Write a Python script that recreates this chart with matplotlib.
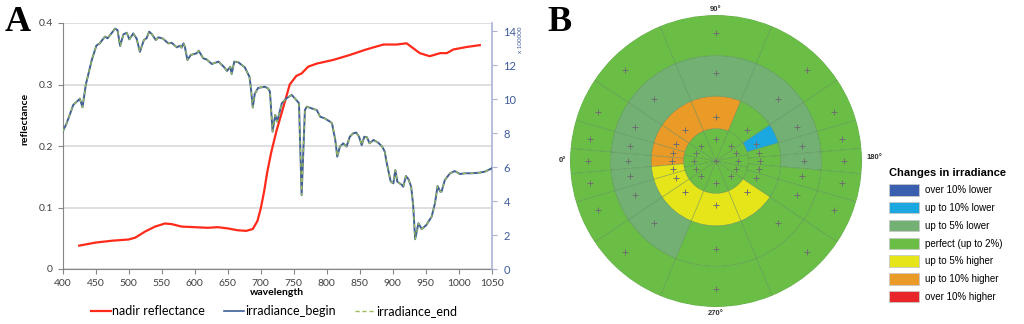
import numpy as np
import matplotlib
matplotlib.use('Agg')
import matplotlib.pyplot as plt
from matplotlib.patches import Patch
from matplotlib.lines import Line2D

# ---- panel A data ----
refl_wl = [425, 450, 475, 500, 510, 525, 540, 555, 565, 580, 600, 620, 635, 650, 665, 678,
           688, 695, 700, 705, 710, 716, 724, 734, 744, 754, 762, 772, 785, 810, 835, 860,
           886, 906, 921, 931, 941, 956, 972, 982, 992, 1012, 1032]
refl_val = [0.038, 0.043, 0.046, 0.048, 0.051, 0.061, 0.069, 0.074, 0.073, 0.069, 0.068,
            0.067, 0.068, 0.066, 0.063, 0.062, 0.065, 0.078, 0.098, 0.125, 0.158, 0.19,
            0.225, 0.262, 0.3, 0.314, 0.318, 0.329, 0.334, 0.340, 0.348, 0.357, 0.365,
            0.365, 0.367, 0.359, 0.351, 0.346, 0.351, 0.351, 0.357, 0.361, 0.364]

irr_wl = [400, 406, 416, 424, 426, 430, 435, 444, 451, 456, 464, 468, 477, 479, 483, 487,
          492, 497, 501, 507, 512, 517, 523, 527, 531, 535, 541, 545, 552, 560, 565, 573,
          578, 580, 583, 585, 589, 594, 603, 606, 613, 618, 626, 636, 644, 649, 654, 656,
          660, 666, 676, 683, 685, 688, 691, 696, 706, 711, 714, 718, 722, 725, 732, 739,
          747, 754, 758, 762, 767, 770, 777, 785, 790, 797, 805, 808, 813, 816, 820, 825,
          830, 835, 840, 845, 849, 853, 857, 861, 865, 871, 878, 884, 888, 891, 897, 901,
          904, 907, 914, 916, 920, 924, 928, 931, 934, 939, 944, 951, 959, 964, 968, 972,
          974, 979, 987, 994, 1002, 1010, 1020, 1032, 1040, 1050]
irr_begin = [8.08, 8.57, 9.65, 9.94, 10.02, 9.51, 10.84, 12.29, 13.14, 13.27, 13.67, 13.57,
             14.02, 14.14, 14.06, 13.12, 13.8, 13.9, 13.51, 13.86, 13.55, 12.78, 13.47,
             13.57, 13.96, 13.82, 13.47, 13.63, 13.55, 13.27, 13.31, 13.04, 13.14, 13.02,
             13.27, 13.08, 12.29, 12.59, 12.69, 12.84, 12.39, 12.33, 12.06, 12.2, 11.9,
             11.65, 11.9, 11.47, 12.2, 12.16, 11.86, 11.3, 10.7, 9.5, 10.3, 10.65, 10.72,
             10.63, 10.43, 8.08, 9.06, 8.67, 9.75, 10.04, 10.24, 9.94, 9.75, 4.35, 9.35,
             9.55, 9.45, 9.35, 8.96, 8.86, 8.67, 8.57, 7.59, 6.61, 7.2, 7.39, 7.2, 7.78,
             7.98, 8.02, 7.78, 7.29, 7.78, 7.75, 7.39, 7.59, 7.43, 7.2, 6.9, 6.22, 5.14,
             5.04, 5.82, 5.14, 4.94, 4.84, 5.47, 5.27, 4.84, 3.76, 1.75, 2.69, 2.35, 2.59,
             3.08, 3.86, 4.88, 4.55, 4.55, 5.24, 5.63, 5.76, 5.59, 5.63, 5.63, 5.67, 5.73,
             5.92]
irr_end = irr_begin  # the two scans overlap everywhere at this scale

x_ticks = [400, 450, 500, 550, 600, 650, 700, 750, 800, 850, 900, 950, 1000, 1050]
left_ticks = [0, 0.1, 0.2, 0.3, 0.4]
right_ticks = [0, 2, 4, 6, 8, 10, 12, 14]

# ---- panel B data ----
categories = ['over 10% lower', 'up to 10% lower', 'up to 5% lower', 'perfect (up to 2%)',
              'up to 5% higher', 'up to 10% higher', 'over 10% higher']
cat_colors = ['#3a5fae', '#1ba8e0', '#72b173', '#6abd45', '#e6e51a', '#e99a27', '#e8262a']
ring_edges = [0, 20, 40, 65, 90]
mark_r = [13.5, 27, 54, 79]
az_inner = [0, 22.5, 45, 90, 135, 157.5, 180, 202.5, 225, 270, 315, 337.5]
az_outer = [0, 10, 22.5, 45, 90, 135, 157.5, 170, 180, 190, 202.5, 225, 270, 315, 337.5, 350]
ring1_codes = [3] * 12
ring2_codes = [5, 5, 5, 5, 5, 3, 1, 3, 3, 3, 3, 4, 4, 4, 4, 4]
ring3_codes = [2, 2, 2, 2, 2, 2, 2, 2, 2, 3, 3, 3, 3, 2, 2, 2]
ring4_codes = [3] * 16

fig = plt.figure(figsize=(10.24, 3.24), dpi=100)

tick_grey = '#404040'
blue_txt = '#3d5a98'
ax = fig.add_axes([62.7 / 1024, 1 - 269 / 324, 429 / 1024, 246 / 324])
ax.plot(refl_wl, refl_val, color='#ff2a1a', lw=1.6, label='nadir reflectance', zorder=3)
ax.set_xlim(400, 1050)
ax.set_ylim(0, 0.4)
ax.set_xticks(x_ticks)
ax.set_yticks(left_ticks)
ax.set_yticklabels(['0', '0.1', '0.2', '0.3', '0.4'])
ax.grid(axis='y', color='#d9d9d9', lw=1.2)
ax.set_axisbelow(True)
for s in ['top', 'right']:
    ax.spines[s].set_visible(False)
ax.spines['left'].set_color('#868686')
ax.spines['bottom'].set_color('#868686')
ax.tick_params(axis='both', labelsize=7.5, colors='#868686', labelcolor=tick_grey,
               length=3.5, width=0.8, direction='out')
for lab in ax.get_xticklabels() + ax.get_yticklabels():
    lab.set_family('Lato')
ax.set_xlabel('wavelength', fontsize=7.5, fontweight='bold', family='Lato', labelpad=0)
ax.set_ylabel('reflectance', fontsize=7.5, fontweight='bold', family='Lato')
ax.yaxis.set_label_coords(-0.077, 0.61)

ax2 = ax.twinx()
ax2.plot(irr_wl, irr_begin, color='#3f5f95', lw=1.4, label='irradiance_begin', zorder=3)
ax2.plot(irr_wl, irr_end, color='#9bbb59', lw=0.9, ls=(0, (3, 3)), label='irradiance_end', zorder=4)
ax2.set_ylim(0, 246 / 17)
ax2.set_yticks(right_ticks)
for s in ['top', 'left', 'bottom']:
    ax2.spines[s].set_visible(False)
ax2.spines['right'].set_color('#aab3d3')
ax2.spines['right'].set_linewidth(1.2)
ax2.tick_params(axis='y', labelsize=8, colors='#aab3d3', labelcolor=blue_txt, length=3.5, pad=5)
for lab in ax2.get_yticklabels():
    lab.set_family('Lato')
fig.text(521 / 1024, 1 - 40 / 324, 'x 100000', rotation=90, fontsize=4.5, color=blue_txt,
         ha='center', va='center', family='Lato')

handles = [Line2D([], [], color='#ff2a1a', lw=1.6),
           Line2D([], [], color='#3f5f95', lw=1.2),
           Line2D([], [], color='#9bbb59', lw=1.0, ls=(0, (3, 2)))]
fig.legend(handles, ['nadir reflectance', 'irradiance_begin', 'irradiance_end'],
           loc='center', bbox_to_anchor=(274 / 1024, 1 - 311 / 324), ncol=3, frameon=False,
           prop={'family': 'Lato', 'size': 9}, handlelength=1.6, handletextpad=0.1,
           columnspacing=1.5, borderpad=0)

fig.text(5 / 1024, 1 - 6 / 324, 'A', family='Liberation Serif', fontweight='bold', fontsize=26,
         ha='left', va='top')
fig.text(547 / 1024, 1 - 6 / 324, 'B', family='Liberation Serif', fontweight='bold', fontsize=26,
         ha='left', va='top')

# ---- panel B ----
pax = fig.add_axes([(716 - 146) / 1024, (324 - 161 - 146) / 324, 292 / 1024, 292 / 324],
                   projection='polar')
pax.set_theta_zero_location('W')
pax.set_theta_direction(-1)


def sector_bounds(az):
    az = np.asarray(az, dtype=float)
    prev = np.roll(az, 1)
    prev[0] -= 360
    nxt = np.roll(az, -1)
    nxt[-1] += 360
    return (az + prev) / 2, (az + nxt) / 2


rings = [(az_inner, ring1_codes), (az_outer, ring2_codes), (az_outer, ring3_codes),
         (az_outer, ring4_codes)]
for i, (az, codes) in enumerate(rings):
    lo, hi = sector_bounds(az)
    pax.bar(np.deg2rad(lo), ring_edges[i + 1] - ring_edges[i], width=np.deg2rad(hi - lo),
            bottom=ring_edges[i], align='edge', color=[cat_colors[c] for c in codes],
            edgecolor=(0.3, 0.5, 0.3, 0.45), linewidth=0.5)
    pax.plot(np.deg2rad(az), [mark_r[i]] * len(az), '+', color='#6f6f6f', ms=4, mew=0.7)
pax.plot([0], [0], '+', color='#6f6f6f', ms=4, mew=0.7)

pax.set_ylim(0, 90)
pax.set_xticks([])
pax.set_yticks([])
pax.grid(False)
pax.spines['polar'].set_visible(False)
pax.patch.set_alpha(0)

lab_kw = dict(fontsize=5.5, fontweight='bold', family='Liberation Sans', color='#303030')
pax.text(np.deg2rad(90), 91, '90°', ha='center', va='bottom', **lab_kw)
pax.text(np.deg2rad(270), 92, '270°', ha='center', va='top', **lab_kw)
pax.text(np.deg2rad(0), 92.5, '0°', ha='right', va='center', **lab_kw)
pax.text(np.deg2rad(180), 92.5, '180°', ha='left', va='bottom', **lab_kw)

patches = [Patch(facecolor=c, edgecolor='#c8c8c8', lw=0.6) for c in cat_colors]
fig.legend(patches, categories, loc='upper left', bbox_to_anchor=(884 / 1024, 1 - 163 / 324),
           frameon=False, title='Changes in irradiance',
           title_fontproperties={'family': 'Liberation Sans', 'weight': 'bold', 'size': 8},
           prop={'family': 'Liberation Sans', 'size': 7}, alignment='left',
           handlelength=3.1, handleheight=1.44, labelspacing=0.65, handletextpad=0.6,
           borderpad=0)

fig.savefig('out.png', dpi=100)
